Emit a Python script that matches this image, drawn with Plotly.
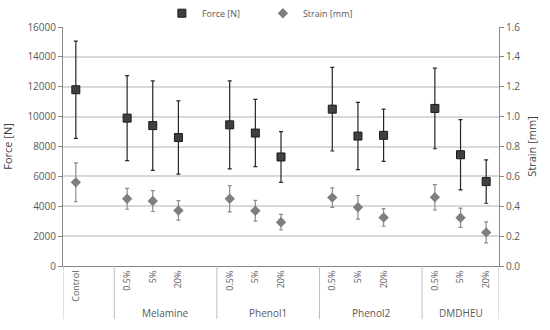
import plotly.graph_objects as go

categories = ["Control", "", "0.5%", "5%", "20%", "", "0.5%", "5%", "20%", "",
              "0.5%", "5%", "20%", "", "0.5%", "5%", "20%"]
groups = ["", "", "Melamine", "Melamine", "Melamine", "Melamine",
          "Phenol1", "Phenol1", "Phenol1", "Phenol1",
          "Phenol2", "Phenol2", "Phenol2", "Phenol2",
          "DMDHEU", "DMDHEU", "DMDHEU"]
force = [11800, None, 9900, 9400, 8600, None, 9450, 8900, 7300, None,
         10500, 8700, 8750, None, 10550, 7450, 5650]
force_err = [3250, None, 2850, 3000, 2450, None, 2950, 2250, 1700, None,
             2800, 2250, 1750, None, 2700, 2350, 1450]
strain = [0.56, None, 0.45, 0.435, 0.372, None, 0.45, 0.37, 0.293, None,
          0.458, 0.393, 0.325, None, 0.46, 0.323, 0.225]
strain_err = [0.13, None, 0.07, 0.07, 0.065, None, 0.088, 0.07, 0.052, None,
              0.065, 0.079, 0.059, None, 0.085, 0.065, 0.07]

x = list(range(len(categories)))
font = "Open Sans"
txt = "#595959"

fig = go.Figure()
fig.add_trace(go.Scatter(
    x=x, y=force, mode="markers", name="Force [N]",
    marker=dict(symbol="square", size=8, color="#404040",
                line=dict(color="#1a1a1a", width=1)),
    error_y=dict(type="data", array=force_err, color="#262626", thickness=1.2, width=2),
))
fig.add_trace(go.Scatter(
    x=x, y=strain, mode="markers", name="Strain [mm]", yaxis="y2",
    marker=dict(symbol="diamond", size=8, color="#7f7f7f"),
    error_y=dict(type="data", array=strain_err, color="#8c8c8c", thickness=1.2, width=2),
))

# group separators and labels
shapes = []
annotations = []
bounds = [-0.5]
spans = []
start = 0
for i in range(1, len(groups) + 1):
    if i == len(groups) or groups[i] != groups[start]:
        spans.append((groups[start], start, i - 1))
        bounds.append(i - 0.5)
        start = i
for b in bounds:
    shapes.append(dict(type="line", xref="x", yref="paper", x0=b, x1=b,
                       y0=0, y1=-0.222, line=dict(color="#bfbfbf", width=1)))
for name, s, e in spans:
    if name:
        annotations.append(dict(x=(s - 0.5 + e + 0.5) / 2, y=-0.197, xref="x", yref="paper",
                                text=name, showarrow=False, yanchor="middle",
                                font=dict(family=font, size=10, color=txt)))

fig.update_layout(
    width=550, height=330,
    margin=dict(l=63, r=51, t=27, b=64, autoexpand=False),
    paper_bgcolor="white", plot_bgcolor="white",
    font=dict(family=font, size=10, color=txt),
    showlegend=True,
    legend=dict(orientation="h", xref="container", yref="container",
                x=0.478, xanchor="center", y=0.96, yanchor="middle",
                font=dict(family=font, size=9, color=txt), itemwidth=30,
                entrywidth=56, entrywidthmode="pixels",
                bgcolor="rgba(0,0,0,0)"),
    xaxis=dict(range=[-0.5, len(categories) - 0.5], tickmode="array", tickvals=x,
               ticktext=categories, tickangle=-90, ticks="", showgrid=False,
               showline=True, linecolor="#868686", linewidth=1, zeroline=False,
               tickfont=dict(family=font, size=9, color=txt)),
    yaxis=dict(range=[0, 16000], dtick=2000, tickformat="d", showgrid=True, gridcolor="#d9d9d9",
               gridwidth=1.5, showline=True, linecolor="#868686", ticks="outside",
               ticklen=4, tickcolor="#868686", zeroline=False,
               title=dict(text="Force [N]", font=dict(family=font, size=11, color="#404040"), standoff=12),
               tickfont=dict(family=font, size=10, color=txt)),
    yaxis2=dict(range=[0, 1.6], dtick=0.2, tickformat=".1f", overlaying="y", side="right",
                showgrid=False, showline=True, linecolor="#868686", ticks="outside",
                ticklen=4, tickcolor="#868686", zeroline=False,
                title=dict(text="Strain [mm]", font=dict(family=font, size=11, color="#404040"), standoff=8),
                tickfont=dict(family=font, size=10, color=txt)),
    shapes=shapes, annotations=annotations,
)
fig.write_html("out.html", config={"displayModeBar": False},
               post_script="document.body.style.margin='0';")
